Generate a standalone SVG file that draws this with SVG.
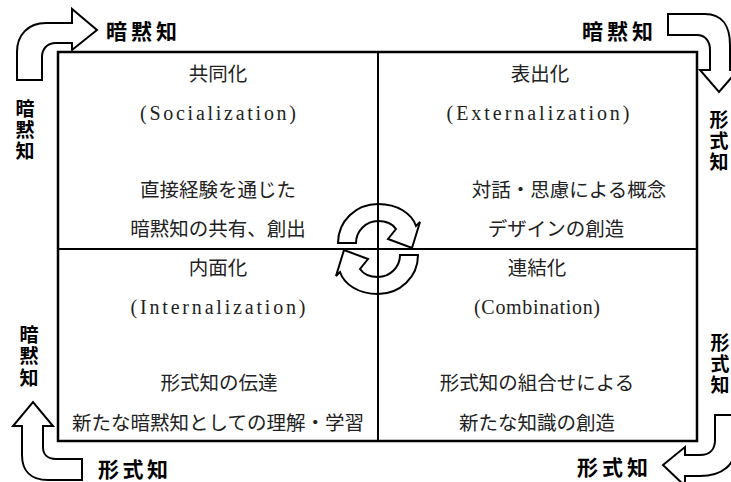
<svg xmlns="http://www.w3.org/2000/svg" width="731" height="482" viewBox="0 0 731 482">
<style>
.q{font-family:"Noto Sans CJK JP","Noto Sans",sans-serif;font-size:19.5px;fill:#222;text-anchor:middle}
.l{font-family:"Liberation Serif",serif;font-size:20px;fill:#222;text-anchor:middle}
.b{font-family:"Noto Sans CJK JP","Noto Sans",sans-serif;font-size:21px;font-weight:bold;fill:#000}
.vb{font-family:"Noto Sans CJK JP","Noto Sans",sans-serif;font-size:19px;font-weight:bold;fill:#000;text-anchor:middle}
.arr{fill:#fff;stroke:#000;stroke-width:2;stroke-linejoin:miter}
.frame{fill:#fff;stroke:#000;stroke-width:2.5}
.ln{stroke:#000;stroke-width:2}
</style>
<defs>
<path id="cyc" d="M338,243 C338,221 356,204 378,204 C398,204 412,214 416,226 L420,222 L412,248 L388,239 L396,229 C392,223 386,221 378,221 C366,221 356,231 356,243 Z"/>
</defs>
<g id="outer-arrows">
<path id="arrow-tl" class="arr" d="M17,80 L17,52 C17,35 28,23 46,23 L72,23 L72,9 L97,30 L72,50 L72,43 L56,43 C47,43 42,49 42,57 L42,80 Z"/>
<path id="arrow-tr" class="arr" d="M668,14 L705,14 C722,14 730,26 730,45 L730,70 L738,70 L719,92 L700,70 L710,70 L710,50 C710,41 705,35 697,35 L668,35 Z"/>
<path id="arrow-bl" class="arr" d="M22,426 L13,426 L33,402 L53,426 L43,426 L43,447 C43,454 47,459 56,459 L82,459 L82,480 L48,480 C30,480 22,470 22,455 Z"/>
<path id="arrow-br" class="arr" d="M715,415 L736,415 L736,445 C736,465 722,476 700,476 L685,476 L685,486 L663,465 L685,447 L685,455 L700,455 C709,455 715,450 715,440 Z"/>
</g>
<g id="frame">
<rect class="frame" x="58" y="52" width="639" height="389"/>
</g>
<g id="cycle">
<use href="#cyc" class="arr"/>
<use href="#cyc" class="arr" transform="rotate(180 378 249)"/>
</g>
<g id="connectors">
<line class="ln" x1="378" y1="52" x2="378" y2="441"/>
<line class="ln" x1="58" y1="249" x2="697" y2="249"/>
</g>
<g id="q-socialization">
<text class="q" x="218" y="81">共同化</text>
<text class="l" x="218" y="120" textLength="156" lengthAdjust="spacing">(Socialization)</text>
<text class="q" x="218" y="197">直接経験を通じた</text>
<text class="q" x="218" y="236">暗黙知の共有、創出</text>
</g>
<g id="q-externalization">
<text class="q" x="540" y="81">表出化</text>
<text class="l" x="538" y="120" textLength="183" lengthAdjust="spacing">(Externalization)</text>
<text class="q" x="569" y="197">対話・思慮による概念</text>
<text class="q" x="556" y="236">デザインの創造</text>
</g>
<g id="q-internalization">
<text class="q" x="218" y="275">内面化</text>
<text class="l" x="218" y="314" textLength="175" lengthAdjust="spacing">(Internalization)</text>
<text class="q" x="219" y="390">形式知の伝達</text>
<text class="q" x="218" y="430">新たな暗黙知としての理解・学習</text>
</g>
<g id="q-combination">
<text class="q" x="537" y="275">連結化</text>
<text class="l" x="537" y="314" textLength="126" lengthAdjust="spacing">(Combination)</text>
<text class="q" x="537" y="390">形式知の組合せによる</text>
<text class="q" x="537" y="430">新たな知識の創造</text>
</g>
<g id="labels">
<text class="b" x="106" y="39" textLength="71" lengthAdjust="spacing">暗黙知</text>
<text class="b" x="582" y="39" textLength="71" lengthAdjust="spacing">暗黙知</text>
<text class="b" x="98" y="477" textLength="70" lengthAdjust="spacing">形式知</text>
<text class="b" x="577" y="475" textLength="71" lengthAdjust="spacing">形式知</text>
<text class="vb"><tspan x="25" y="116">暗</tspan><tspan x="25" y="137">黙</tspan><tspan x="25" y="158">知</tspan></text>
<text class="vb"><tspan x="29" y="342">暗</tspan><tspan x="29" y="363">黙</tspan><tspan x="29" y="385">知</tspan></text>
<text class="vb"><tspan x="719" y="127">形</tspan><tspan x="719" y="148">式</tspan><tspan x="719" y="169">知</tspan></text>
<text class="vb"><tspan x="720" y="350">形</tspan><tspan x="720" y="371">式</tspan><tspan x="720" y="392">知</tspan></text>
</g>
</svg>
